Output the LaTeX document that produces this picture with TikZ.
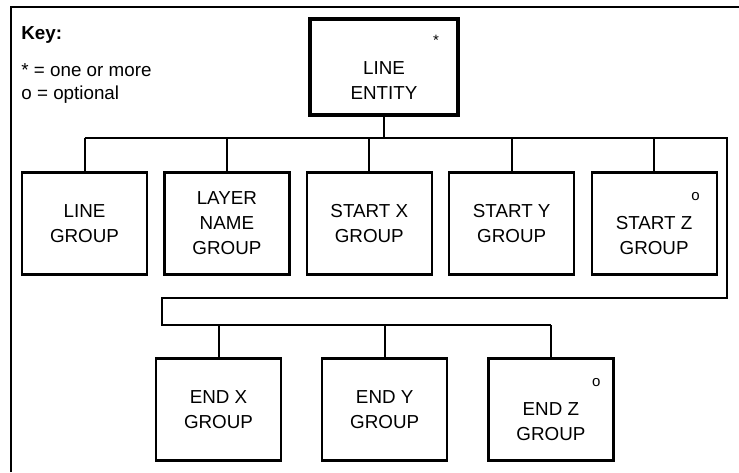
\documentclass[tikz,border=0pt]{standalone}
\usepackage{fontspec}
\setmainfont{Liberation Sans}
\usetikzlibrary{positioning}

\newcommand{\markfont}{\fontsize{7.5}{9}\selectfont}

\begin{document}
\begin{tikzpicture}[
  x=0.5pt, y=-0.5pt,
  node distance=7.6pt,
  grp/.style={draw, line width=1.1pt, minimum width=62.5pt, minimum height=51pt,
              inner sep=0pt, align=center, font=\fontsize{9.4}{12.5}\selectfont},
  entity/.style={grp, line width=2.1pt, minimum width=74pt, minimum height=48pt},
  keytext/.style={inner sep=0pt, align=left, font=\fontsize{9.4}{11.5}\selectfont},
  link/.style={line width=1pt},
  frame/.style={line width=1.3pt},
]
\useasboundingbox (0,0) rectangle (739,472);

%% Frame
\draw[frame] (11,472) -- (11,7) -- (739,7);

%% Key
\node[keytext, anchor=north west] (key) at (21,26.5)
  {\textbf{Key:}\\[7pt]* = one or more\\o = optional};

%% Top entity
\node[entity] (entity) at (384,67)
  {\makebox[55pt][r]{\markfont *}\\[2pt]LINE\\ENTITY};

%% First row of groups
\node[grp] (linegrp) at (84.5,223.5) {LINE\\GROUP};
\node[grp, right=of linegrp]  (layergrp) {LAYER\\NAME\\GROUP};
\node[grp, right=of layergrp] (startx)   {START X\\GROUP};
\node[grp, right=of startx]   (starty)   {START Y\\GROUP};
\node[grp, right=of starty]   (startz)
  {\makebox[45.5pt][r]{\markfont o}\\[2pt]START Z\\GROUP};

%% Second row of groups
\node[grp] (endx) at (218.5,409.5) {END X\\GROUP};
\node[grp, right=19.5pt of endx] (endy) {END Y\\GROUP};
\node[grp, right=19.5pt of endy] (endz)
  {\makebox[49.5pt][r]{\markfont o}\\[2pt]END Z\\GROUP};

%% Buses
\coordinate (bus1) at (384,138);
\coordinate (turn) at (727,298);
\coordinate (bus2) at (162,325);

\draw[link] (entity) -- (bus1);
\draw[link] (linegrp.north |- bus1) -- (turn |- bus1) -- (turn)
  -- (bus2 |- turn) -- (bus2) -- (endz.north |- bus2);
\foreach \g in {linegrp,layergrp,startx,starty,startz}
  \draw[link] (\g.north |- bus1) -- (\g);
\foreach \g in {endx,endy,endz}
  \draw[link] (\g.north |- bus2) -- (\g);

\end{tikzpicture}
\end{document}
